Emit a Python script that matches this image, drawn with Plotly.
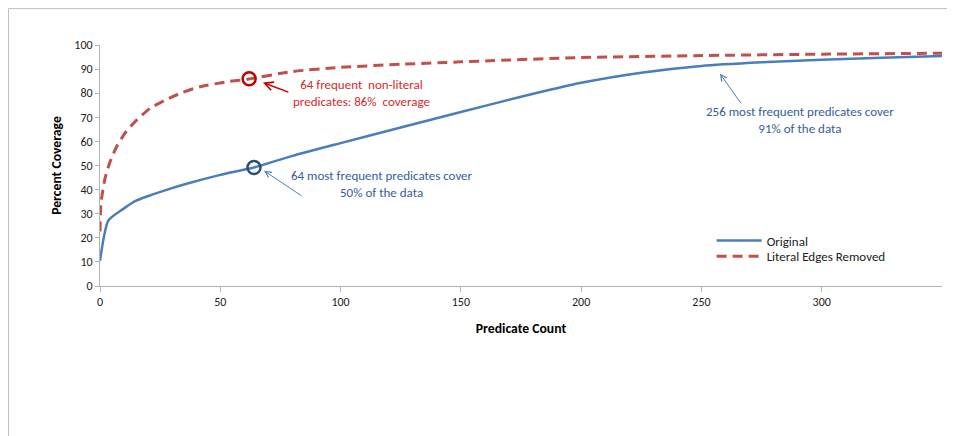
import plotly.graph_objects as go

# ---- data ----
orig_x = [0, 3.5, 9.7, 15.2, 22, 28, 36, 50, 64, 80, 100, 125, 150, 175, 200, 225, 250, 275, 300, 325, 350]
orig_y = [10.5, 27.2, 32, 35.5, 38, 40, 42.4, 46.1, 49.2, 54, 59.3, 65.8, 72.2, 78.5, 84.3, 88.5, 91.3, 92.8, 93.9, 94.7, 95.4]

lit_x = [0, 0.4, 2.1, 4.2, 6.9, 10.8, 15.2, 20.8, 27, 34, 41.6, 52.6, 61.2, 80, 100, 125, 150, 200, 250, 300, 350]
lit_y = [22.6, 34.3, 44.7, 51.6, 57.8, 64, 68.8, 73.7, 77.1, 80.2, 82.7, 84.7, 85.8, 89, 90.7, 92, 93, 94.8, 95.6, 96.2, 96.6]

highlight_orig = (64, 49.2)
highlight_lit = (62, 86)

x_ticks = [0, 50, 100, 150, 200, 250, 300]
y_ticks = [0, 10, 20, 30, 40, 50, 60, 70, 80, 90, 100]

series_names = ["Original", "Literal Edges Removed"]
note_lit = "64 frequent  non-literal<br>predicates: 86%  coverage"
note_64 = "64 most frequent predicates cover<br>50% of the data"
note_256 = "256 most frequent predicates cover<br>91% of the data"

FONT = "Carlito, Calibri, 'Liberation Sans Narrow', 'Liberation Sans', Arial, sans-serif"
BLUE = "#4a7ebb"
RED = "#c0504d"
AXIS = "#b3b3b3"

fig = go.Figure()
fig.add_trace(go.Scatter(x=orig_x, y=orig_y, mode="lines", name=series_names[0], legend="legend",
                         line=dict(color=BLUE, width=2.5, shape="spline", smoothing=0.6)))
fig.add_trace(go.Scatter(x=lit_x, y=lit_y, mode="lines", name=series_names[1], legend="legend2",
                         line=dict(color=RED, width=3, dash="10px,6px", shape="spline", smoothing=0.6)))
# highlight circles
fig.add_trace(go.Scatter(x=[highlight_orig[0]], y=[highlight_orig[1]], mode="markers", showlegend=False,
                         marker=dict(symbol="circle-open", size=13, color="#2c4d75", line=dict(width=2.5))))
fig.add_trace(go.Scatter(x=[highlight_lit[0]], y=[highlight_lit[1]], mode="markers", showlegend=False,
                         marker=dict(symbol="circle-open", size=13, color="#c00000", line=dict(width=2.5))))

# annotation texts
fig.add_annotation(x=108.9, y=80.2, text=note_lit, showarrow=False,
                   font=dict(family=FONT, size=13, color="#d42a2a"), align="center")
fig.add_annotation(x=117.1, y=42.2, text=note_64, showarrow=False,
                   font=dict(family=FONT, size=13, color="#35609a"), align="center")
fig.add_annotation(x=291, y=68.8, text=note_256, showarrow=False,
                   font=dict(family=FONT, size=13, color="#35609a"), align="center")
# arrows
fig.add_annotation(x=67.7, y=84.4, ax=27, ay=10, text="", showarrow=True, arrowhead=5,
                   arrowsize=1.2, arrowwidth=1.4, arrowcolor="#c00000")
fig.add_annotation(x=68.2, y=47.8, ax=39, ay=26, text="", showarrow=True, arrowhead=5,
                   arrowsize=1.2, arrowwidth=1, arrowcolor=BLUE)
fig.add_annotation(x=257.7, y=88.1, ax=22, ay=31, text="", showarrow=True, arrowhead=5,
                   arrowsize=1.2, arrowwidth=1, arrowcolor=BLUE)

# chart frame
fig.add_shape(type="line", xref="paper", yref="paper", x0=-0.1087, x1=-0.1087, y0=1.151, y1=-0.7,
              line=dict(color="#bfbfbf", width=1))
fig.add_shape(type="line", xref="paper", yref="paper", x0=-0.1087, x1=1.1, y0=1.151, y1=1.151,
              line=dict(color="#bfbfbf", width=1))

legend_common = dict(xanchor="left", yanchor="top", bgcolor="rgba(0,0,0,0)", itemwidth=45,
                     font=dict(family=FONT, size=13, color="#222222"))

fig.update_layout(
    width=947, height=428,
    margin=dict(l=92, r=13, t=37, b=150),
    paper_bgcolor="white", plot_bgcolor="white",
    font=dict(family=FONT, size=12, color="#222222"),
    showlegend=True,
    legend=dict(x=0.7264, y=0.251, **legend_common),
    legend2=dict(x=0.7264, y=0.185, **legend_common),
    xaxis=dict(range=[0, 350], tickvals=x_ticks, showgrid=False, zeroline=False,
               showline=True, linecolor=AXIS, linewidth=1, ticks="outside", ticklen=5,
               tickcolor=AXIS, tickfont=dict(size=12, color="#222222"),
               title=dict(text="<b>Predicate Count</b>", font=dict(size=13.7, color="#000000"), standoff=15)),
    yaxis=dict(range=[0, 100], tickvals=y_ticks, showgrid=False, zeroline=False,
               showline=True, linecolor=AXIS, linewidth=1, ticks="outside", ticklen=4,
               tickcolor=AXIS, tickfont=dict(size=12, color="#222222"),
               title=dict(text="<b>Percent Coverage</b>", font=dict(size=13.7, color="#000000"), standoff=9)),
)

fig.write_html("out.html")
